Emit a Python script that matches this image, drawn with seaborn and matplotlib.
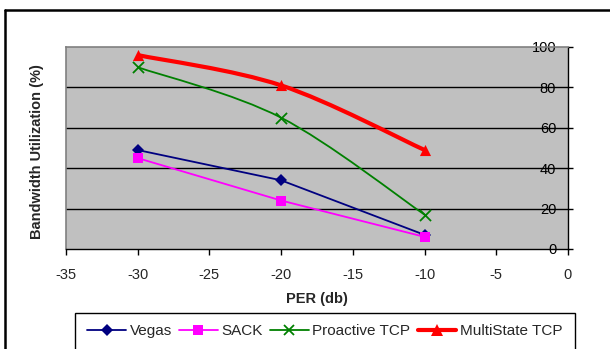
import matplotlib
import numpy as np
import pandas as pd
import seaborn as sns

matplotlib.use("Agg")
import matplotlib.pyplot as plt
from matplotlib.lines import Line2D
from matplotlib.patches import PathPatch, Rectangle
from matplotlib.path import Path


PER = [-30, -20, -10]
VEGAS = [49, 34, 7]
SACK = [45, 24, 6]
PROACTIVE = [90, 65, 17]
MULTISTATE = [96, 81, 49]

X_TICKS = [-35, -30, -25, -20, -15, -10, -5, 0]
Y_TICKS = [0, 20, 40, 60, 80, 100]


def smooth_path(xs, ys) -> Path:
    # Excel style smoothed line: cubic bezier through the points
    pts = np.column_stack([xs, ys]).astype(float)
    verts = [pts[0]]
    codes = [Path.MOVETO]
    n = len(pts)
    for i in range(n - 1):
        p0 = pts[i - 1] if i > 0 else pts[i]
        p1 = pts[i]
        p2 = pts[i + 1]
        p3 = pts[i + 2] if i + 2 < n else pts[i + 1]
        verts += [p1 + (p2 - p0) / 6, p2 - (p3 - p1) / 6, p2]
        codes += [Path.CURVE4] * 3
    return Path(verts, codes)


def main() -> None:
    sns.set_theme(style="white")
    plt.rcParams["font.family"] = ["Liberation Sans", "DejaVu Sans"]

    df = pd.DataFrame(
        {
            "PER": PER * 4,
            "value": VEGAS + SACK + PROACTIVE + MULTISTATE,
            "series": ["Vegas"] * 3 + ["SACK"] * 3 + ["Proactive TCP"] * 3 + ["MultiState TCP"] * 3,
        }
    )

    fig = plt.figure(figsize=(6.1, 3.49), dpi=100)
    fig.patch.set_facecolor("white")
    ax = fig.add_axes([66 / 610, 1 - 249 / 349, (568 - 66) / 610, (249 - 47) / 349])
    ax.set_facecolor("#C0C0C0")

    specs = [
        ("Vegas", "#000080", "D", 6, 1.3, False),
        ("SACK", "#FF00FF", "s", 6.5, 1.3, False),
        ("Proactive TCP", "#008000", "x", 8, 1.3, True),
        ("MultiState TCP", "#FF0000", "^", 8, 3.0, True),
    ]
    handles = []
    for name, color, marker, ms, lw, smooth in specs:
        sub = df[df["series"] == name]
        if smooth:
            ax.add_patch(
                PathPatch(smooth_path(sub["PER"], sub["value"]), facecolor="none",
                          edgecolor=color, lw=lw, zorder=3)
            )
            sns.scatterplot(data=sub, x="PER", y="value", ax=ax, color=color, marker=marker,
                            s=ms ** 2, linewidth=1.3 if marker == "x" else 0, zorder=4, legend=False)
        else:
            sns.lineplot(data=sub, x="PER", y="value", ax=ax, color=color, lw=lw, marker=marker,
                         markersize=ms, markeredgewidth=0, zorder=3, legend=False)
        handles.append(Line2D([0], [0], color=color, lw=lw, marker=marker,
                              markersize=ms if marker != "x" else 7,
                              markeredgewidth=1.3 if marker == "x" else 0, label=name))

    ax.set_xlim(-35, 0)
    ax.set_ylim(0, 100)
    ax.set_xticks(X_TICKS)
    ax.set_yticks(Y_TICKS)
    ax.set_xticklabels([str(v) for v in X_TICKS])
    for v in Y_TICKS[1:-1]:
        ax.axhline(v, color="black", lw=1, zorder=1)

    for side in ["top", "left"]:
        ax.spines[side].set_color("#808080")
        ax.spines[side].set_linewidth(1.2)
    ax.spines["right"].set_color("black")
    ax.spines["bottom"].set_color("black")
    ax.spines["right"].set_linewidth(1)
    ax.spines["bottom"].set_linewidth(1)

    ax.yaxis.tick_right()
    ax.tick_params(axis="y", direction="out", length=3.5, width=1, color="black",
                   pad=-12, labelsize=10.5, labelcolor="black")
    for lbl in ax.get_yticklabels():
        lbl.set_ha("right")
    ax.tick_params(axis="x", direction="out", length=4, width=1, color="black",
                   pad=10, labelsize=10.5, bottom=True)

    ax.set_xlabel("PER (db)", fontsize=10.5, fontweight="bold", labelpad=7)
    ax.set_ylabel("")
    fig.text(37 / 610, 1 - 152 / 349, "Bandwidth Utilization (%)", rotation=90,
             ha="center", va="center", fontsize=10.5, fontweight="bold")

    leg = fig.legend(handles=handles, loc="center", bbox_to_anchor=(325 / 610, 1 - 331 / 349),
                     ncol=4, frameon=False, fontsize=11, handlelength=2.5,
                     columnspacing=0.5, handletextpad=0.25, borderpad=0)
    # legend box, its lower edge runs past the bottom of the picture
    fig.add_artist(Rectangle((75 / 610, -0.05), (575 - 75) / 610, 0.05 + 1 - 313 / 349,
                             transform=fig.transFigure, facecolor="none",
                             edgecolor="black", lw=1))

    # outer chart frame
    fig.add_artist(Line2D([5 / 610, 5 / 610], [0, 1 - 10 / 349], transform=fig.transFigure,
                          color="black", lw=1.8))
    fig.add_artist(Line2D([5 / 610, 1], [1 - 10 / 349, 1 - 10 / 349], transform=fig.transFigure,
                          color="black", lw=1.8))

    fig.savefig("out.png", dpi=100)
    plt.close(fig)


if __name__ == "__main__":
    main()
